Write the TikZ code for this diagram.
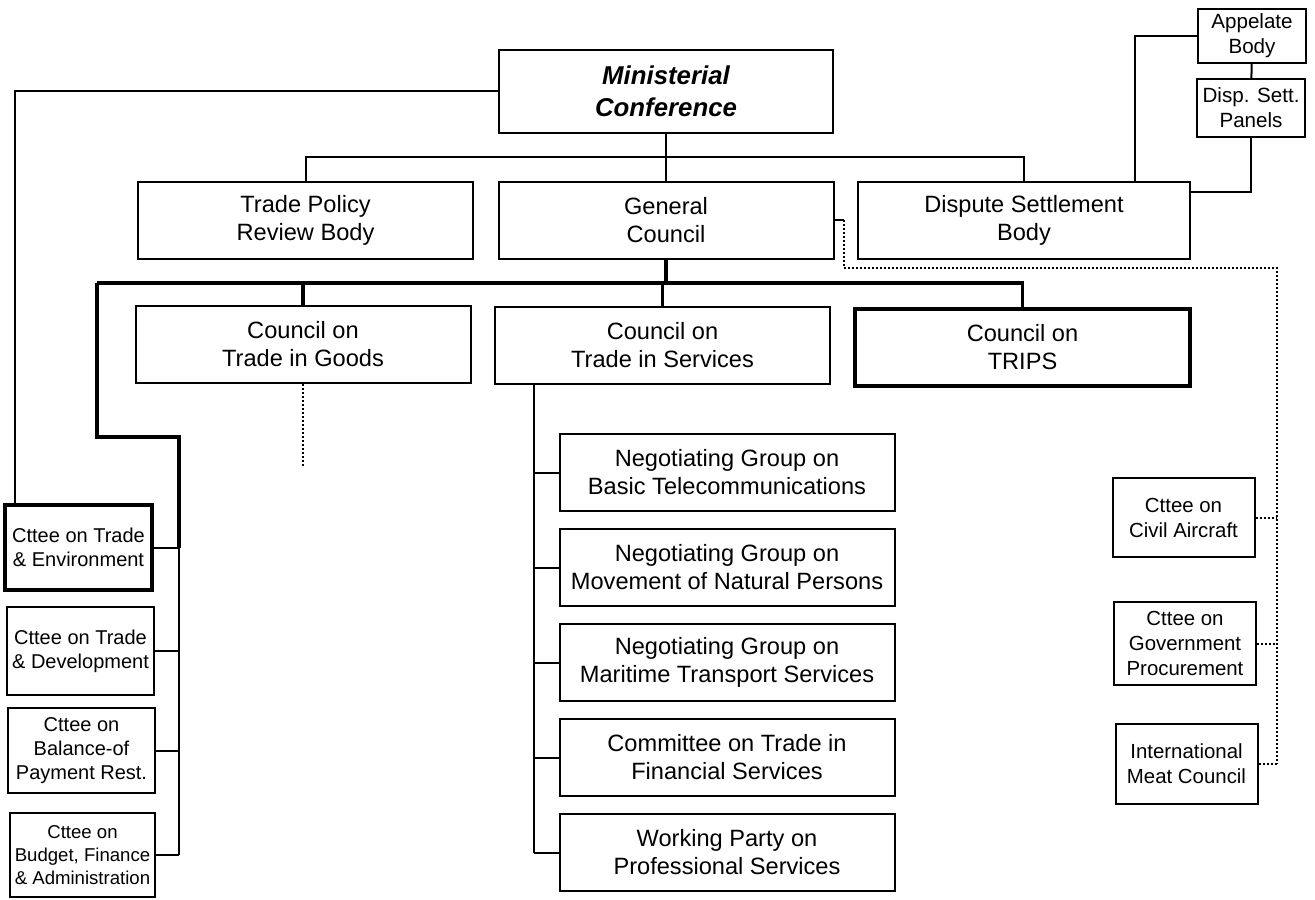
\documentclass[tikz,border=0pt]{standalone}
\usepackage{fontspec}
\setmainfont{Liberation Sans}
\usetikzlibrary{positioning}

\tikzset{
  orgbox/.style={draw, line width=1pt, align=center, inner sep=1pt,
    font=\fontsize{11.8}{14}\selectfont},
  widebox/.style={orgbox, minimum width=167.5pt, minimum height=38.5pt},
  cttee/.style={orgbox, minimum width=71pt, minimum height=40pt,
    font=\fontsize{10.2}{12.5}\selectfont},
  tinybox/.style={orgbox, minimum width=54pt, minimum height=27pt,
    font=\fontsize{10.3}{12.5}\selectfont},
  heavybox/.style={line width=1.8pt},
  link/.style={line width=1pt},
  trunk/.style={line width=1.8pt},
  dotlink/.style={line width=1pt, densely dotted},
}

\begin{document}
\begin{tikzpicture}[x=0.5pt, y=-0.5pt]
  \useasboundingbox (0,0) rectangle (1315,899);
  % rails and bends
  \coordinate (topbus) at (666,157);
  \coordinate (leftrail) at (15,0);
  \coordinate (dsbrail) at (1135,0);
  \coordinate (pnlbus) at (0,192);
  \coordinate (trunkL) at (97,283);
  \coordinate (cteerail) at (179,437);
  \coordinate (svrail) at (534,0);
  \coordinate (goodsend) at (303,467);
  \coordinate (plurA) at (844,268);
  \coordinate (plurB) at (1277,268);

  % top level
  \node[orgbox, minimum width=167pt, minimum height=41.5pt,
    font={\fontsize{12.9}{16}\selectfont\bfseries\itshape}] (minconf) at (666,91.5) {Ministerial\\Conference};
  \node[widebox] (tprb) at (305.5,220) {Trade Policy\\Review Body};
  \node[widebox] (gc) at (666,220) {General\\Council};
  \node[widebox, minimum width=166pt] (dsb) at (1024,220) {Dispute Settlement\\Body};
  \node[tinybox] (appel) at (1252,36) {Appelate\\Body};
  \node[tinybox, minimum height=29pt] (panels) at (1251,108) {Disp. Sett.\\Panels};

  % councils
  \node[widebox] (goods) at (303,344.5) {Council on\\Trade in Goods};
  \node[widebox] (services) at (662.5,345) {Council on\\Trade in Services};
  \node[widebox, heavybox] (trips) at (1022.5,347.5) {Council on\\TRIPS};

  % bodies under services
  \node[widebox] (ng1) at (727,472.5) {Negotiating Group on\\Basic Telecommunications};
  \node[widebox, below=8pt of ng1] (ng2) {Negotiating Group on\\Movement of Natural Persons};
  \node[widebox, below=8pt of ng2] (ng3) {Negotiating Group on\\Maritime Transport Services};
  \node[widebox, below=8pt of ng3] (ng4) {Committee on Trade in\\Financial Services};
  \node[widebox, below=8pt of ng4] (ng5) {Working Party on\\Professional Services};

  % committees, left
  \node[cttee, minimum width=73.5pt, minimum height=42.5pt, heavybox, font=\fontsize{10}{12}\selectfont] (ctenv) at (78.5,547.5) {Cttee on Trade\\\& Environment};
  \node[cttee, minimum width=73.5pt, minimum height=44pt, font=\fontsize{10}{12}\selectfont] (ctdev) at (80.5,651) {Cttee on Trade\\\& Development};
  \node[cttee, minimum width=73.5pt, minimum height=42.5pt, font=\fontsize{10}{12}\selectfont] (ctbop) at (81.5,750.5) {Cttee on\\Balance-of\\Payment Rest.};
  \node[cttee, minimum width=72.5pt, minimum height=42pt, font=\fontsize{9.3}{11.5}\selectfont] (ctbfa) at (82.5,855) {Cttee on\\Budget, Finance\\\& Administration};

  % plurilaterals, right
  \node[cttee, minimum height=39.5pt] (civil) at (1183.5,517.5) {Cttee on\\Civil Aircraft};
  \node[cttee, minimum height=41.5pt] (govt) at (1185,643.5) {Cttee on\\Government\\Procurement};
  \node[cttee] (meat) at (1186.5,764) {International\\Meat Council};

  % links from the top
  \draw[link] (minconf) -- (gc);
  \draw[link] (tprb.north) |- (topbus) -| (dsb.north);
  \draw[link] (minconf.west) -| (ctenv.north -| leftrail);
  \draw[link] (dsb.north -| dsbrail) |- (appel.west);
  \draw[link] (appel) -- (panels);
  \draw[link] (panels.south) |- (dsb.east |- pnlbus);

  % general council trunk
  \draw[trunk] (gc.south) -- (gc.south |- trunkL);
  \draw[trunk] (trunkL) -| (trips.north);
  \draw[trunk] (goods.north) -- (goods.north |- trunkL);
  \draw[trunk] (services.north) -- (services.north |- trunkL);
  \draw[trunk] (trunkL) |- (cteerail) -- (ctenv.east -| cteerail);
  \draw[link] (ctenv.east -| cteerail) -- (ctbfa.east -| cteerail);
  \foreach \c in {ctenv,ctdev,ctbop,ctbfa}
    \draw[link] (\c.east) -- (\c.east -| cteerail);

  % services rail
  \draw[link] (services.south -| svrail) -- (ng5.west -| svrail);
  \foreach \g in {ng1,ng2,ng3,ng4,ng5}
    \draw[link] (\g.west) -- (\g.west -| svrail);

  % dotted ones
  \draw[dotlink] (goods.south) -- (goodsend);
  \draw[link] (gc.east) -- (gc.east -| plurA);
  \draw[dotlink] (gc.east -| plurA) |- (plurB) -- (meat.east -| plurB);
  \foreach \p in {civil,govt,meat}
    \draw[dotlink] (\p.east) -- (\p.east -| plurB);
\end{tikzpicture}
\end{document}
